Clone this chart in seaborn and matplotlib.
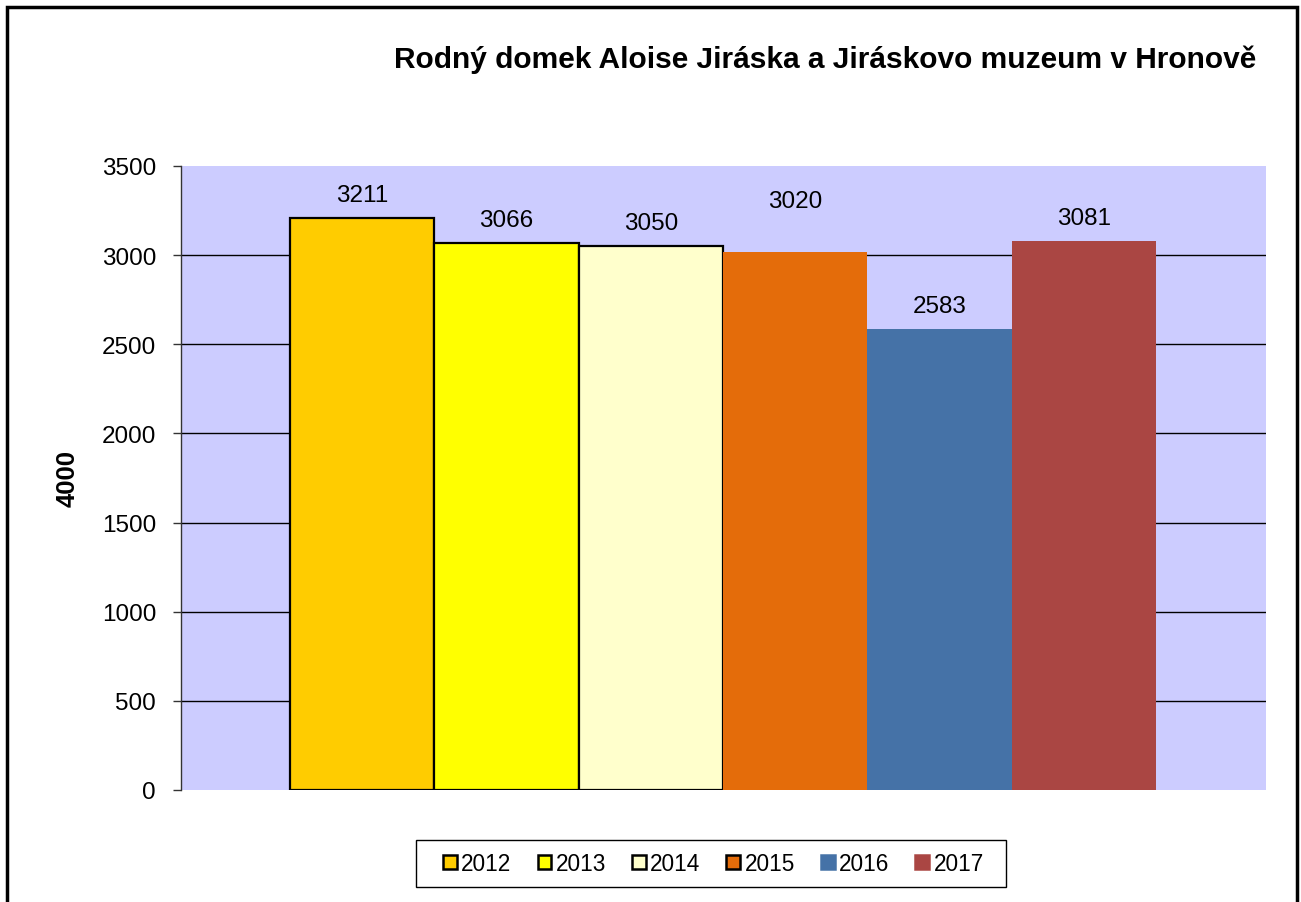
import pandas as pd
import matplotlib.pyplot as plt
import seaborn as sns
from matplotlib.patches import Patch, Rectangle

# data
years = ['2012', '2013', '2014', '2015', '2016', '2017']
visitors = [3211, 3066, 3050, 3020, 2583, 3081]
colors = ['#FFCC00', '#FFFF00', '#FFFFCC', '#E46C0A', '#4572A7', '#AA4643']
outlined = [True, True, True, False, False, False]

df = pd.DataFrame({'rok': years, 'navstevnost': visitors})

sns.set_theme(style="white")
plt.rcParams['font.family'] = ['Liberation Sans', 'DejaVu Sans']
plt.rcParams['text.color'] = 'black'
plt.rcParams['ytick.color'] = '#333333'
plt.rcParams['ytick.labelcolor'] = 'black'
plt.rcParams['axes.labelcolor'] = 'black'

fig = plt.figure(figsize=(13.01, 9.03), dpi=100)
ax = fig.add_axes([181 / 1301, 1 - 791 / 903, (1266 - 181) / 1301, (791 - 167) / 903])
ax.set_facecolor('#CCCCFF')

sns.barplot(data=df, x='rok', y='navstevnost', hue='rok', palette=colors,
            width=1.0, saturation=1, legend=False, ax=ax, zorder=3)

for bar, edge in zip(ax.patches, outlined):
    if edge:
        bar.set_edgecolor('black')
        bar.set_linewidth(1.6)
    else:
        bar.set_linewidth(0)

# popisky hodnot
for i, v in enumerate(visitors):
    off = 45 if years[i] == '2015' else 17
    ax.annotate(str(v), (i, v), xytext=(0, off), textcoords='offset pixels',
                ha='center', va='baseline', fontsize=17.5)

ax.set_xlim(-1.255, 6.262)
ax.set_ylim(0, 3500)
ax.set_yticks(range(0, 3501, 500))
ax.yaxis.grid(True, color='black', linewidth=1, zorder=1)
ax.set_axisbelow(True)
gl = ax.get_ygridlines()
gl[0].set_visible(False)
gl[-1].set_visible(False)
ax.tick_params(axis='y', labelsize=17.5, length=6, width=1,
               direction='out', left=True, pad=12)
ax.set_xticks([])
ax.set_xlabel('')
ax.set_ylabel('4000', fontsize=18.5, fontweight='bold', labelpad=16)
for s in ['top', 'right', 'bottom']:
    ax.spines[s].set_visible(False)
ax.spines['left'].set_color('#333333')
ax.spines['left'].set_linewidth(1)

fig.text(825 / 1301, 1 - 60 / 903, 'Rodný domek Aloise Jiráska a Jiráskovo muzeum v Hronově',
         ha='center', va='center', fontsize=21.5, fontweight='bold')

# legenda (ramecek kreslen zvlast, aby sedel na puvodni rozmery)
handles = [Patch(facecolor=c, edgecolor='black' if i < 4 else c, linewidth=1.8)
           for i, c in enumerate(colors)]
fig.legend(handles, years, loc='center', bbox_to_anchor=(713.5 / 1301, 1 - 864.5 / 903),
           ncol=6, fontsize=16.3, frameon=False,
           handlelength=0.6, handleheight=0.6, handletextpad=0.2, columnspacing=1.15,
           borderpad=0, borderaxespad=0)
fig.patches.append(Rectangle((416 / 1301, 1 - 888 / 903), (1006 - 416) / 1301, 47 / 903,
                             transform=fig.transFigure, fill=False, edgecolor='black',
                             linewidth=1))

fig.patches.append(Rectangle((7 / 1301, -0.01), (1297 - 7) / 1301, 1 - 8 / 903 + 0.01,
                             transform=fig.transFigure, fill=False, edgecolor='black',
                             linewidth=2.5))

plt.savefig('out.png', dpi=100)
